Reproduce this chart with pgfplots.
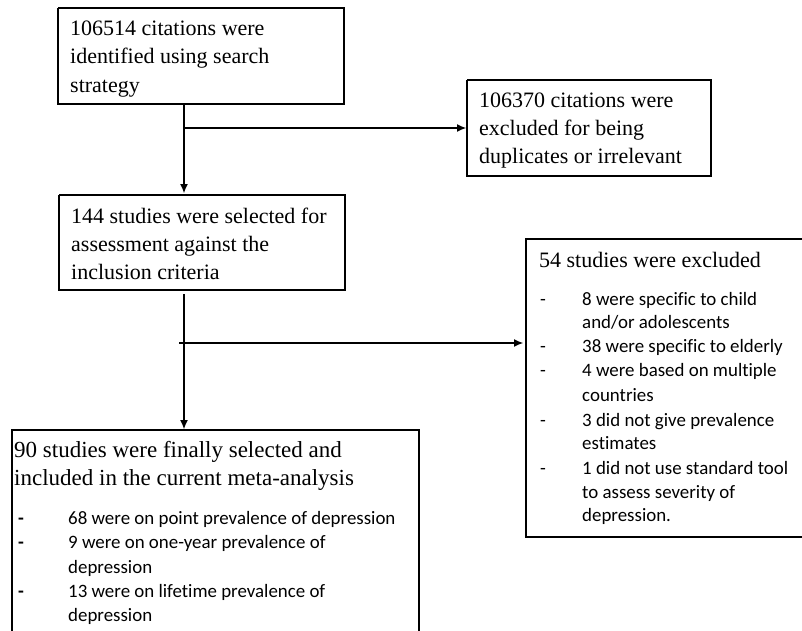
\documentclass[border=0pt]{standalone}
\usepackage{pgfplots}
\pgfplotsset{compat=1.18}
\usepackage{fontspec}
\usetikzlibrary{arrows.meta}
\setmainfont[Ligatures=NoCommon]{Liberation Serif}
\newfontfamily\calfont[Ligatures=NoCommon]{Carlito}
\newcommand\hdfont{\fontsize{22bp}{26bp}\selectfont}
\newcommand\itemfont{\calfont\fontsize{18.9bp}{22bp}\selectfont}
\tikzset{
  tl/.style={anchor=base west, inner sep=0pt, font=\hdfont},
  il/.style={anchor=base west, inner sep=0pt, font=\itemfont},
  ln/.style={black, line width=1.1bp, mark=none},
  ar/.style={ln, -{Latex[length=9bp,width=8bp]}},
}
\begin{document}
\begin{tikzpicture}
\begin{axis}[
    scale only axis, width=802bp, height=631bp,
    xmin=0, xmax=802, ymin=0, ymax=631, y dir=reverse,
    hide axis, clip=false,
  ]
  % boxes
  \addplot[ln] coordinates {(58,8) (344,8) (344,104) (58,104) (58,8)};
  \addplot[ln] coordinates {(467,80) (711,80) (711,176) (467,176) (467,80)};
  \addplot[ln] coordinates {(59,195) (345,195) (345,290) (59,290) (59,195)};
  \addplot[ln] coordinates {(802,239) (526,239) (526,537) (802,537)};
  \addplot[ln] coordinates {(12,631) (12,430) (419,430) (419,631)};
  % arrows
  \addplot[ar] coordinates {(184,104) (184,193)};
  \addplot[ar] coordinates {(184,128) (466,128)};
  \addplot[ar] coordinates {(184,294) (184,429)};
  \addplot[ar] coordinates {(179,343) (523,343)};
  % box texts
  \node[tl] at (axis cs:70,36) {106514 citations were};
  \node[tl] at (axis cs:70,64) {identified using search};
  \node[tl] at (axis cs:70,92) {strategy};
  \node[tl] at (axis cs:479,107) {106370 citations were};
  \node[tl] at (axis cs:479,135) {excluded for being};
  \node[tl] at (axis cs:479,163) {duplicates or irrelevant};
  \node[tl] at (axis cs:71,223) {144 studies were selected for};
  \node[tl] at (axis cs:71,251) {assessment against the};
  \node[tl] at (axis cs:71,279) {inclusion criteria};
  \node[tl] at (axis cs:539,267) {54 studies were excluded};
  \node[il] at (axis cs:540,305) {-};
  \node[il] at (axis cs:582,305) {8 were specific to child};
  \node[il] at (axis cs:582,328) {and/or adolescents};
  \node[il] at (axis cs:540,352) {-};
  \node[il] at (axis cs:582,352) {38 were specific to elderly};
  \node[il] at (axis cs:540,376) {-};
  \node[il] at (axis cs:582,376) {4 were based on multiple};
  \node[il] at (axis cs:582,401) {countries};
  \node[il] at (axis cs:540,426) {-};
  \node[il] at (axis cs:582,426) {3 did not give prevalence};
  \node[il] at (axis cs:582,449) {estimates};
  \node[il] at (axis cs:540,474) {-};
  \node[il] at (axis cs:582,474) {1 did not use standard tool};
  \node[il] at (axis cs:582,498) {to assess severity of};
  \node[il] at (axis cs:582,521) {depression.};
  \node[tl, font=\fontsize{23bp}{27bp}\selectfont] at (axis cs:14,457) {90 studies were finally selected and};
  \node[tl, font=\fontsize{23bp}{27bp}\selectfont] at (axis cs:14,485) {included in the current meta-analysis};
  \node[il] at (axis cs:18,524) {\textbf{-}};
  \node[il] at (axis cs:68,524) {68 were on point prevalence of depression};
  \node[il] at (axis cs:18,548) {\textbf{-}};
  \node[il] at (axis cs:68,548) {9 were on one-year prevalence of};
  \node[il] at (axis cs:68,573) {depression};
  \node[il] at (axis cs:18,597) {\textbf{-}};
  \node[il] at (axis cs:68,597) {13 were on lifetime prevalence of};
  \node[il] at (axis cs:68,621) {depression};
\end{axis}
\pgfresetboundingbox
\useasboundingbox (current axis.south west) rectangle (current axis.north east);
\end{tikzpicture}
\end{document}
